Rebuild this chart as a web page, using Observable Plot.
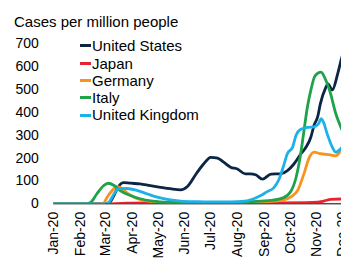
<!DOCTYPE html>
<html>
<head>
<meta charset="utf-8">
<script src="https://cdn.jsdelivr.net/npm/d3@7"></script>
<script src="https://cdn.jsdelivr.net/npm/@observablehq/plot@0.6"></script>
<style>
  html, body { margin: 0; padding: 0; background: #fff; }
  body { width: 341px; height: 259px; overflow: hidden; position: relative; font-family: "Liberation Sans", Arial, sans-serif; }
  #chart { position: absolute; left: 0; top: 0; width: 368px; height: 259px; }
  #chart svg { max-width: none !important; width: 368px !important; height: 259px !important; }
  #title { position: absolute; left: 14px; top: 14px; font-size: 15px; line-height: 15px; color: #000; white-space: nowrap; }
  #legend { position: absolute; left: 80px; top: 37.3px; }
  .item { display: flex; align-items: center; height: 17.3px; font-size: 15px; line-height: 17.3px; color: #000; white-space: nowrap; }
  .sw { display: inline-block; width: 11px; height: 3px; margin-right: 1px; }
</style>
</head>
<body>
<div id="chart"></div>
<div id="title">Cases per million people</div>
<div id="legend"></div>
<script>
const seriesNames = ["United States", "Japan", "Germany", "Italy", "United Kingdom"];
const seriesColors = ["#0b2545", "#e8232e", "#f7931e", "#1ea34a", "#1db1e8"];
const yTicks = [0, 100, 200, 300, 400, 500, 600, 700];
const monthTicks = ["2020-01-01","2020-02-01","2020-03-01","2020-04-01","2020-05-01","2020-06-01","2020-07-01","2020-08-01","2020-09-01","2020-10-01","2020-11-01","2020-12-01"];

const unitedStates = [["2020-01-01",0],["2020-02-25",0],["2020-03-05",3],["2020-03-10",30],["2020-03-14",62],["2020-03-18",85],["2020-03-22",93],["2020-03-30",90],["2020-04-10",87],["2020-04-22",79],["2020-05-04",72],["2020-05-15",66],["2020-05-27",61],["2020-06-04",76],["2020-06-15",136],["2020-06-23",175],["2020-07-01",203],["2020-07-09",200],["2020-07-16",182],["2020-07-24",160],["2020-08-01",152],["2020-08-10",131],["2020-08-16",131],["2020-08-22",127],["2020-08-30",108],["2020-09-09",130],["2020-09-20",131],["2020-09-28",145],["2020-10-05",172],["2020-10-13",215],["2020-10-19",245],["2020-10-25",290],["2020-10-29",345],["2020-11-02",380],["2020-11-05",435],["2020-11-11",505],["2020-11-14",525],["2020-11-19",498],["2020-11-25",565],["2020-11-29",625],["2020-12-03",680]];
const japan = [["2020-01-01",0],["2020-03-01",0],["2020-03-20",2],["2020-04-15",4],["2020-05-10",2],["2020-06-15",1],["2020-07-15",3],["2020-08-05",7],["2020-08-25",5],["2020-09-20",4],["2020-10-20",5],["2020-11-02",7],["2020-11-10",13],["2020-11-17",19],["2020-11-29",21],["2020-12-03",21]];
const germany = [["2020-01-01",0],["2020-02-24",0],["2020-02-28",4],["2020-03-03",30],["2020-03-08",55],["2020-03-12",70],["2020-03-16",74],["2020-03-22",60],["2020-03-28",42],["2020-04-03",29],["2020-04-18",13],["2020-05-07",6],["2020-06-10",3],["2020-07-20",4],["2020-08-16",7],["2020-09-05",10],["2020-09-23",16],["2020-10-02",30],["2020-10-10",60],["2020-10-17",130],["2020-10-23",200],["2020-10-29",226],["2020-11-05",219],["2020-11-17",214],["2020-11-23",210],["2020-11-29",233],["2020-12-03",250]];
const italy = [["2020-01-01",0],["2020-02-08",0],["2020-02-13",7],["2020-02-20",44],["2020-02-28",80],["2020-03-04",90],["2020-03-11",80],["2020-03-18",58],["2020-03-30",36],["2020-04-10",22],["2020-04-25",12],["2020-05-12",7],["2020-06-15",4],["2020-07-20",4],["2020-08-16",9],["2020-09-09",15],["2020-09-23",26],["2020-10-02",55],["2020-10-08",115],["2020-10-13",210],["2020-10-17",315],["2020-10-21",420],["2020-10-25",495],["2020-10-30",560],["2020-11-06",576],["2020-11-11",545],["2020-11-17",482],["2020-11-23",395],["2020-11-29",335],["2020-12-03",300]];
const unitedKingdom = [["2020-01-01",0],["2020-03-01",0],["2020-03-05",7],["2020-03-11",44],["2020-03-16",66],["2020-03-26",67],["2020-04-07",58],["2020-04-18",44],["2020-04-30",29],["2020-05-15",17],["2020-05-27",12],["2020-06-15",9],["2020-07-01",8],["2020-07-24",8],["2020-08-12",13],["2020-08-20",22],["2020-08-28",36],["2020-09-04",52],["2020-09-12",70],["2020-09-18",105],["2020-09-23",160],["2020-09-28",220],["2020-10-04",248],["2020-10-08",300],["2020-10-13",325],["2020-10-21",334],["2020-10-29",337],["2020-11-03",350],["2020-11-06",372],["2020-11-09",355],["2020-11-13",307],["2020-11-19",248],["2020-11-23",226],["2020-11-29",242],["2020-12-03",260]];

const seriesData = [unitedStates, japan, germany, italy, unitedKingdom];
const rows = seriesData.flatMap((s, i) => s.map(([d, v]) => ({series: seriesNames[i], date: new Date(d), value: v})));

const font = '"Liberation Sans", Arial, sans-serif';
const chart = Plot.plot({
  width: 368,
  height: 259,
  marginLeft: 53.3,
  marginRight: 0,
  marginTop: 43.3,
  marginBottom: 55.7,
  style: {fontFamily: font, fontSize: "14px", color: "#000", background: "transparent", overflow: "visible", maxWidth: "none"},
  x: {type: "utc", domain: [new Date("2020-01-01"), new Date("2020-12-31")]},
  y: {domain: [0, 700]},
  color: {domain: seriesNames, range: seriesColors},
  marks: [
    Plot.axisY({ticks: yTicks, tickSize: 0, tickPadding: 15, label: null, fontSize: 14}),
    Plot.axisX({ticks: monthTicks.map(d => new Date(d)), tickFormat: d3.utcFormat("%b-%y"), tickRotate: -90, tickSize: 0, tickPadding: 8, label: null, fontSize: 14}),
    Plot.ruleY([0], {stroke: "#000", strokeWidth: 1}),
    Plot.line(rows, {x: "date", y: "value", z: "series", stroke: "series", strokeWidth: 2.8, curve: "monotone-x", clip: true})
  ]
});
chart.style.maxWidth = "none";
document.getElementById("chart").appendChild(chart);

const legend = document.getElementById("legend");
seriesNames.forEach((n, i) => {
  const it = document.createElement("div");
  it.className = "item";
  const sw = document.createElement("span");
  sw.className = "sw";
  sw.style.background = seriesColors[i];
  it.appendChild(sw);
  it.appendChild(document.createTextNode(n));
  legend.appendChild(it);
});
</script>
</body>
</html>
